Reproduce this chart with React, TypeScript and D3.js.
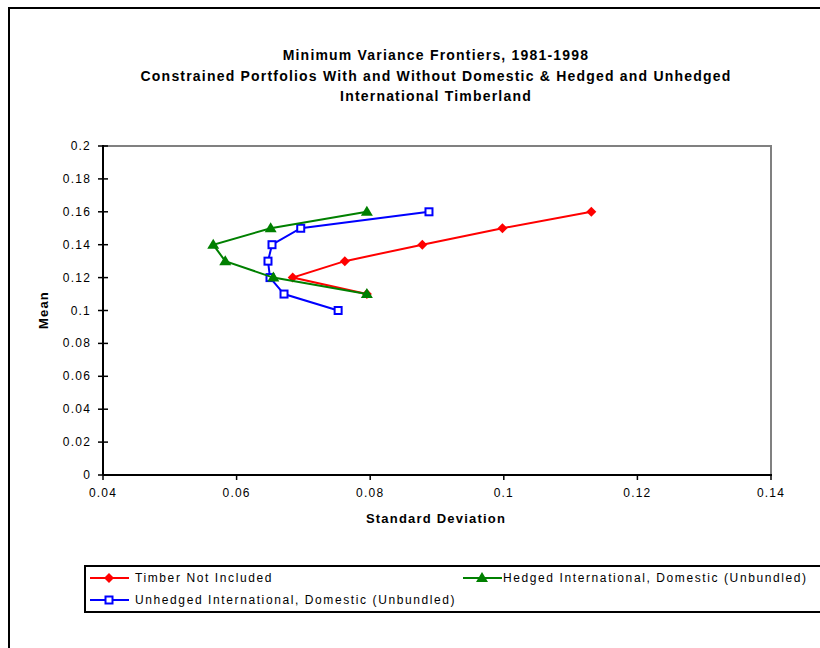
import React from "react";
import * as d3 from "d3";

const titleLines = [
  "Minimum Variance Frontiers, 1981-1998",
  "Constrained Portfolios With and Without Domestic & Hedged and Unhedged",
  "International Timberland",
];

const xTicks = [0.04, 0.06, 0.08, 0.1, 0.12, 0.14];
const yTicks = [0, 0.02, 0.04, 0.06, 0.08, 0.1, 0.12, 0.14, 0.16, 0.18, 0.2];

// Timber Not Included
const timberSd = [0.0795, 0.0684, 0.0762, 0.0878, 0.0998, 0.1131];
const timberMean = [0.11, 0.12, 0.13, 0.14, 0.15, 0.16];

// Hedged International, Domestic (Unbundled)
const hedgedSd = [0.0795, 0.0655, 0.0583, 0.0565, 0.0651, 0.0795];
const hedgedMean = [0.11, 0.12, 0.13, 0.14, 0.15, 0.16];

// Unhedged International, Domestic (Unbundled)
const unhedgedSd = [0.0752, 0.0671, 0.065, 0.0647, 0.0653, 0.0696, 0.0888];
const unhedgedMean = [0.1, 0.11, 0.12, 0.13, 0.14, 0.15, 0.16];

const FONT = "'Liberation Sans', Arial, sans-serif";

const plot = { left: 103, right: 771, top: 146, bottom: 475 };

const x = d3.scaleLinear().domain([0.04, 0.14]).range([plot.left, plot.right]);
const y = d3.scaleLinear().domain([0, 0.2]).range([plot.bottom, plot.top]);

const line = d3
  .line<[number, number]>()
  .x((d) => x(d[0]))
  .y((d) => y(d[1]));

const zip = (a: number[], b: number[]) => a.map((v, i) => [v, b[i]] as [number, number]);

const Marker = ({ kind, cx, cy, color }: { kind: string; cx: number; cy: number; color: string }) => {
  if (kind === "diamond")
    return <path d={`M${cx},${cy - 5}L${cx + 5},${cy}L${cx},${cy + 5}L${cx - 5},${cy}Z`} fill={color} />;
  if (kind === "triangle")
    return <path d={`M${cx},${cy - 6}L${cx + 6},${cy + 4}L${cx - 6},${cy + 4}Z`} fill={color} />;
  return <rect x={cx - 3.5} y={cy - 3.5} width={7} height={7} fill="white" stroke={color} strokeWidth={2} />;
};

const series = [
  { name: "Timber Not Included", color: "#ff0000", kind: "diamond", pts: zip(timberSd, timberMean) },
  { name: "Unhedged International, Domestic (Unbundled)", color: "#0000ff", kind: "square", pts: zip(unhedgedSd, unhedgedMean) },
  { name: "Hedged International, Domestic (Unbundled)", color: "#008000", kind: "triangle", pts: zip(hedgedSd, hedgedMean) },
];

const legendPos = [
  { lx: 90, ly: 578, tx: 135 },
  { lx: 90, ly: 600, tx: 135 },
  { lx: 463, ly: 578, tx: 503 },
];

export default function App() {
  const fmt = (v: number) => String(+v.toFixed(2));
  return (
    <svg
      width={820}
      height={648}
      style={{ position: "fixed", left: 0, top: 0, background: "white" }}
      fontFamily={FONT}
    >
      <rect x={9} y={8} width={900} height={900} fill="white" stroke="black" strokeWidth={2} />

      {titleLines.map((t, i) => (
        <text key={t} x={436} y={60 + i * 20.5} textAnchor="middle" fontSize={14} fontWeight="bold" letterSpacing={1.2}>
          {t}
        </text>
      ))}

      {/* plot frame */}
      <path
        d={`M${plot.left},${plot.top}H${plot.right}V${plot.bottom}`}
        fill="none"
        stroke="#808080"
        strokeWidth={2}
      />
      <line x1={plot.left} x2={plot.right + 1} y1={plot.bottom} y2={plot.bottom} stroke="black" strokeWidth={2} />
      <line x1={plot.left} x2={plot.left} y1={plot.top - 1} y2={plot.bottom} stroke="black" strokeWidth={2} />

      {yTicks.map((t) => (
        <g key={t}>
          <line x1={plot.left - 5} x2={plot.left + 5} y1={y(t)} y2={y(t)} stroke="black" strokeWidth={1.5} />
          <text x={91} y={y(t) + 4} textAnchor="end" fontSize={12} letterSpacing={1.2}>
            {fmt(t)}
          </text>
        </g>
      ))}
      {xTicks.map((t) => (
        <g key={t}>
          <line x1={x(t)} x2={x(t)} y1={plot.bottom} y2={plot.bottom + 5} stroke="black" strokeWidth={1.5} />
          <text x={x(t)} y={497} textAnchor="middle" fontSize={12} letterSpacing={1.2}>
            {fmt(t)}
          </text>
        </g>
      ))}

      <text x={436} y={523} textAnchor="middle" fontSize={13} fontWeight="bold" letterSpacing={1.2}>
        Standard Deviation
      </text>
      <text transform="translate(48,310) rotate(-90)" textAnchor="middle" fontSize={13} fontWeight="bold" letterSpacing={1.2}>
        Mean
      </text>

      {series.map((s) => (
        <g key={s.name}>
          <path d={line(s.pts) || ""} fill="none" stroke={s.color} strokeWidth={2} />
          {s.pts.map((p, i) => (
            <Marker key={i} kind={s.kind} cx={x(p[0])} cy={y(p[1])} color={s.color} />
          ))}
        </g>
      ))}

      {/* legend */}
      <rect x={85} y={566} width={800} height={46} fill="white" stroke="black" strokeWidth={2} />
      {series.map((s, i) => {
        const { lx, ly, tx } = legendPos[i];
        return (
          <g key={s.name}>
            <line x1={lx} x2={lx + 39} y1={ly} y2={ly} stroke={s.color} strokeWidth={2} />
            <Marker kind={s.kind} cx={lx + 19} cy={ly} color={s.color} />
            <text x={tx} y={ly + 4} fontSize={12} letterSpacing={1.6}>
              {s.name}
            </text>
          </g>
        );
      })}
    </svg>
  );
}
